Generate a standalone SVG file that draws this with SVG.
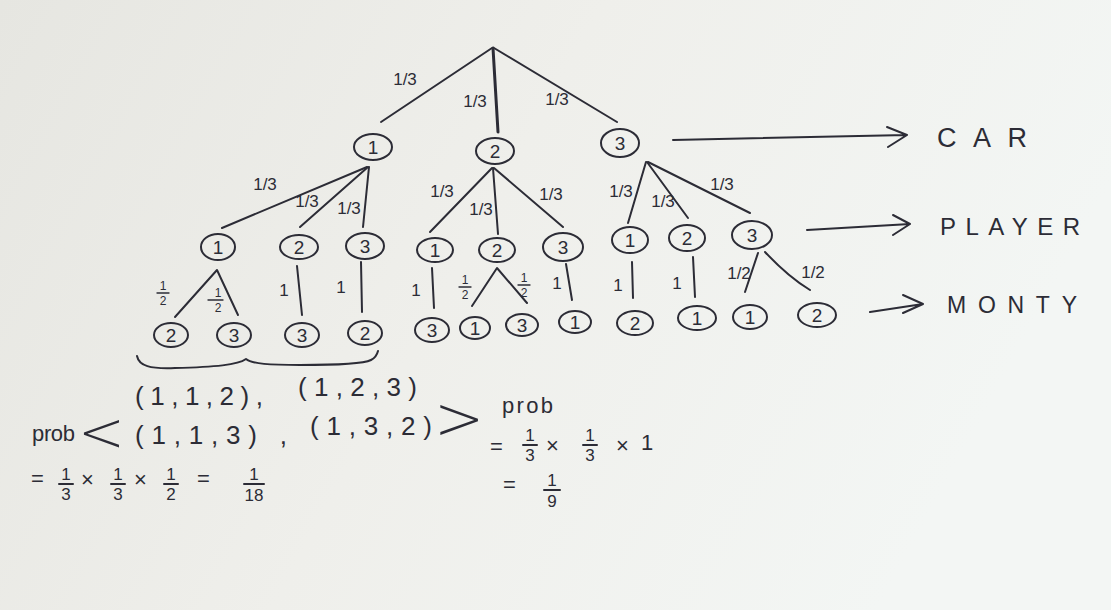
<svg xmlns="http://www.w3.org/2000/svg" width="1111" height="610" viewBox="0 0 1111 610">
<defs>
<linearGradient id="paper" x1="0" y1="0" x2="1" y2="0.3">
<stop offset="0" stop-color="#e6e6e1"/>
<stop offset="0.5" stop-color="#efefeb"/>
<stop offset="1" stop-color="#f3f6f4"/>
</linearGradient>
<style>
.ink{stroke:#2c2c36;stroke-width:2;fill:none;stroke-linecap:round;stroke-linejoin:round}
.node{stroke:#2c2c36;stroke-width:2;fill:none}
.d{font-family:"Liberation Sans",Arial,sans-serif;font-size:19px;fill:#2c2c36;text-anchor:middle;dominant-baseline:central}
.lbl{font-family:"Liberation Sans",Arial,sans-serif;font-size:17px;fill:#2c2c36;text-anchor:middle}
.sm{font-family:"Liberation Sans",Arial,sans-serif;font-size:12px;fill:#2c2c36;text-anchor:middle}
.big{font-family:"Liberation Sans",Arial,sans-serif;font-size:26px;fill:#2c2c36}
.ang{font-family:"DejaVu Sans","Liberation Sans",sans-serif;font-weight:200;fill:#2c2c36}
.eq{font-family:"Liberation Sans",Arial,sans-serif;font-size:22px;fill:#2c2c36}
.fr{font-family:"Liberation Sans",Arial,sans-serif;font-size:17px;fill:#2c2c36;text-anchor:middle}
.cap{font-family:"Liberation Sans",Arial,sans-serif;fill:#2c2c36}
</style>
</defs>
<rect x="0" y="0" width="1111" height="610" fill="url(#paper)"/>

<g id="connectors">
<path class="ink" d="M492,48 L381,122"/>
<path class="ink" d="M493,48 L498,132" style="stroke-width:3"/>
<path class="ink" d="M494,48 L617,122"/>
<path class="ink" d="M367,167 L222,228"/>
<path class="ink" d="M368,167 L300,227"/>
<path class="ink" d="M369,167 L363,227"/>
<path class="ink" d="M492,168 L430,232"/>
<path class="ink" d="M493,168 L498,234"/>
<path class="ink" d="M494,168 L563,227"/>
<path class="ink" d="M646,162 L628,223"/>
<path class="ink" d="M647,162 L688,218"/>
<path class="ink" d="M648,162 L750,213"/>
<path class="ink" d="M175,317 L217,270 L238,315"/>
<path class="ink" d="M297,266 L302,315"/>
<path class="ink" d="M361,262 L362,312"/>
<path class="ink" d="M432,268 L434,308"/>
<path class="ink" d="M472,306 L497,268 L527,303"/>
<path class="ink" d="M566,264 L572,300"/>
<path class="ink" d="M632,262 L633,298"/>
<path class="ink" d="M693,257 L695,297"/>
<path class="ink" d="M745,292 L758,253"/>
<path class="ink" d="M765,252 C780,268 795,281 810,290"/>
<path class="ink" d="M673,140 L907,135 M887,127 L907,135 L888,147"/>
<path class="ink" d="M807,230 L910,224 M893,215 L910,224 L893,235"/>
<path class="ink" d="M870,312 L923,304 M903,295 L923,304 L903,313"/>
<path class="ink" d="M137,356 C139,366 150,369 175,368 C215,367 238,365 246,359 C252,364 270,365 300,365 C340,365 365,363 371,360 C375,358 377,355 378,351"/>
</g>

<g id="edge-labels">
<text class="lbl" x="405" y="85">1/3</text>
<text class="lbl" x="475" y="107">1/3</text>
<text class="lbl" x="557" y="105">1/3</text>
<text class="lbl" x="265" y="190">1/3</text>
<text class="lbl" x="307" y="207">1/3</text>
<text class="lbl" x="349" y="214">1/3</text>
<text class="lbl" x="442" y="197">1/3</text>
<text class="lbl" x="481" y="215">1/3</text>
<text class="lbl" x="551" y="200">1/3</text>
<text class="lbl" x="621" y="197">1/3</text>
<text class="lbl" x="663" y="207">1/3</text>
<text class="lbl" x="722" y="190">1/3</text>
<text class="lbl" x="284" y="296">1</text>
<text class="lbl" x="341" y="293">1</text>
<text class="lbl" x="416" y="296">1</text>
<text class="lbl" x="557" y="289">1</text>
<text class="lbl" x="618" y="291">1</text>
<text class="lbl" x="677" y="289">1</text>
<text class="lbl" x="739" y="279">1/2</text>
<text class="lbl" x="813" y="278">1/2</text>
<g>
<text class="sm" x="163" y="290">1</text><path class="ink" style="stroke-width:1.3" d="M157,293 L169,293"/><text class="sm" x="163" y="305">2</text>
<text class="sm" x="218" y="297">1</text><path class="ink" style="stroke-width:1.3" d="M208,300 L223,300"/><text class="sm" x="218" y="312">2</text>
<text class="sm" x="465" y="284">1</text><path class="ink" style="stroke-width:1.3" d="M459,287 L471,287"/><text class="sm" x="465" y="299">2</text>
<text class="sm" x="524" y="282">1</text><path class="ink" style="stroke-width:1.3" d="M518,285 L530,285"/><text class="sm" x="524" y="297">2</text>
</g>
</g>

<g id="n-A1"><ellipse class="node" cx="373" cy="147" rx="19" ry="13"/><text class="d" x="373" y="147">1</text></g>
<g id="n-A2"><ellipse class="node" cx="495" cy="151" rx="19" ry="13"/><text class="d" x="495" y="151">2</text></g>
<g id="n-A3"><ellipse class="node" cx="620" cy="143" rx="19" ry="14"/><text class="d" x="620" y="143">3</text></g>

<g id="n-B11"><ellipse class="node" cx="218" cy="247" rx="17" ry="13"/><text class="d" x="218" y="247">1</text></g>
<g id="n-B12"><ellipse class="node" cx="299" cy="247" rx="19" ry="12"/><text class="d" x="299" y="247">2</text></g>
<g id="n-B13"><ellipse class="node" cx="365" cy="246" rx="19" ry="13"/><text class="d" x="365" y="246">3</text></g>
<g id="n-B21"><ellipse class="node" cx="435" cy="250" rx="18" ry="12"/><text class="d" x="435" y="250">1</text></g>
<g id="n-B22"><ellipse class="node" cx="497" cy="250" rx="18" ry="12"/><text class="d" x="497" y="250">2</text></g>
<g id="n-B23"><ellipse class="node" cx="563" cy="247" rx="20" ry="14"/><text class="d" x="563" y="247">3</text></g>
<g id="n-B31"><ellipse class="node" cx="630" cy="240" rx="18" ry="13"/><text class="d" x="630" y="240">1</text></g>
<g id="n-B32"><ellipse class="node" cx="687" cy="238" rx="18" ry="13"/><text class="d" x="687" y="238">2</text></g>
<g id="n-B33"><ellipse class="node" cx="752" cy="235" rx="20" ry="14"/><text class="d" x="752" y="235">3</text></g>

<g id="n-C1"><ellipse class="node" cx="171" cy="335" rx="17" ry="12"/><text class="d" x="171" y="335">2</text></g>
<g id="n-C2"><ellipse class="node" cx="234" cy="335" rx="17" ry="12"/><text class="d" x="234" y="335">3</text></g>
<g id="n-C3"><ellipse class="node" cx="302" cy="335" rx="17" ry="12"/><text class="d" x="302" y="335">3</text></g>
<g id="n-C4"><ellipse class="node" cx="365" cy="333" rx="17" ry="12"/><text class="d" x="365" y="333">2</text></g>
<g id="n-C5"><ellipse class="node" cx="432" cy="330" rx="17" ry="12"/><text class="d" x="432" y="330">3</text></g>
<g id="n-C6"><ellipse class="node" cx="475" cy="328" rx="15" ry="11"/><text class="d" x="475" y="328">1</text></g>
<g id="n-C7"><ellipse class="node" cx="522" cy="325" rx="16" ry="11"/><text class="d" x="522" y="325">3</text></g>
<g id="n-C8"><ellipse class="node" cx="575" cy="322" rx="16" ry="11"/><text class="d" x="575" y="322">1</text></g>
<g id="n-C9"><ellipse class="node" cx="635" cy="323" rx="18" ry="12"/><text class="d" x="635" y="323">2</text></g>
<g id="n-C10"><ellipse class="node" cx="697" cy="318" rx="19" ry="12"/><text class="d" x="697" y="318">1</text></g>
<g id="n-C11"><ellipse class="node" cx="750" cy="317" rx="17" ry="12"/><text class="d" x="750" y="317">1</text></g>
<g id="n-C12"><ellipse class="node" cx="817" cy="315" rx="19" ry="12"/><text class="d" x="817" y="315">2</text></g>

<g id="level-labels">
<text class="cap" x="937" y="147" textLength="90" style="font-size:27px">CAR</text>
<text class="cap" x="940" y="235" textLength="140" style="font-size:24px">PLAYER</text>
<text class="cap" x="947" y="313" textLength="130" style="font-size:23px">MONTY</text>
</g>

<g id="calc">
<text class="big" x="135" y="405" textLength="128">(1,1,2),</text>
<text class="big" x="298" y="396" textLength="119">(1,2,3)</text>
<text class="big" x="135" y="444" textLength="152">(1,1,3) ,</text>
<text class="big" x="310" y="435" textLength="122">(1,3,2)</text>
<text class="eq" x="32" y="441" textLength="43">prob</text>
<text class="ang" x="78" y="451" style="font-size:56px">&lt;</text>
<text class="ang" x="434" y="439" style="font-size:60px">&gt;</text>
<text class="eq" x="502" y="413" textLength="51">prob</text>
<text class="eq" x="31" y="486">=</text>
<text class="fr" x="66" y="480">1</text><path class="ink" d="M59,484 L73,484"/><text class="fr" x="66" y="500">3</text>
<text class="eq" x="81" y="487">×</text>
<text class="fr" x="118" y="480">1</text><path class="ink" d="M111,484 L125,484"/><text class="fr" x="118" y="500">3</text>
<text class="eq" x="134" y="487">×</text>
<text class="fr" x="171" y="480">1</text><path class="ink" d="M164,484 L178,484"/><text class="fr" x="171" y="500">2</text>
<text class="eq" x="197" y="486">=</text>
<text class="fr" x="254" y="480">1</text><path class="ink" d="M244,484 L264,484"/><text class="fr" x="254" y="501">18</text>
<text class="eq" x="490" y="454">=</text>
<text class="fr" x="530" y="441">1</text><path class="ink" d="M523,445 L537,445"/><text class="fr" x="530" y="461">3</text>
<text class="eq" x="546" y="453">×</text>
<text class="fr" x="590" y="441">1</text><path class="ink" d="M583,445 L597,445"/><text class="fr" x="590" y="461">3</text>
<text class="eq" x="616" y="453">×</text>
<text class="eq" x="641" y="450">1</text>
<text class="eq" x="503" y="492">=</text>
<text class="fr" x="552" y="486">1</text><path class="ink" d="M544,490 L560,490"/><text class="fr" x="552" y="507">9</text>
</g>
</svg>
